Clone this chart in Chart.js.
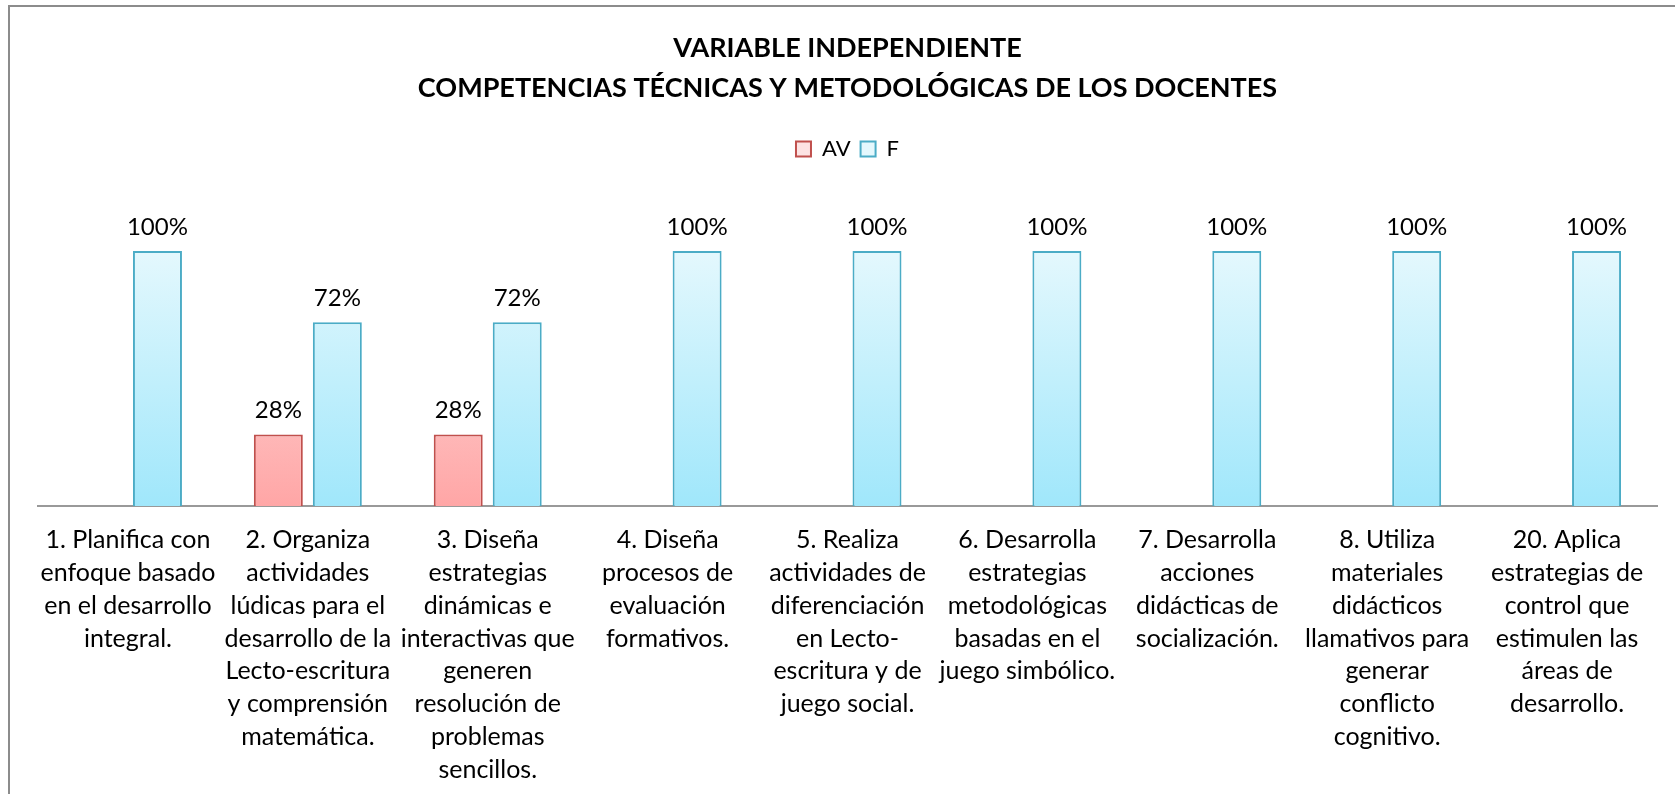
<!DOCTYPE html>
<html>
<head>
<meta charset="utf-8">
<script src="https://cdn.jsdelivr.net/npm/chart.js@4.4.1/dist/chart.umd.min.js"></script>
<style>
  html, body { margin: 0; padding: 0; background: #fff; overflow: hidden; }
  #frame {
    position: absolute; left: 8px; top: 5px; width: 1700px; height: 820px;
    border-left: 2px solid #8c8c8c; border-top: 2px solid #8c8c8c;
  }
  #wrap { position: absolute; left: 0; top: 0; width: 1675px; height: 794px; }
</style>
</head>
<body>
<div id="frame"></div>
<div id="wrap"><canvas id="chart"></canvas></div>
<script>
const categories = [
    ['1. Planifica con', 'enfoque basado', 'en el desarrollo', 'integral.'],
    ['2. Organiza', 'actividades', 'lúdicas para el', 'desarrollo de la', 'Lecto-escritura', 'y comprensión', 'matemática.'],
    ['3. Diseña', 'estrategias', 'dinámicas e', 'interactivas que', 'generen', 'resolución de', 'problemas', 'sencillos.'],
    ['4. Diseña', 'procesos de', 'evaluación', 'formativos.'],
    ['5. Realiza', 'actividades de', 'diferenciación', 'en Lecto-', 'escritura y de', 'juego social.'],
    ['6. Desarrolla', 'estrategias', 'metodológicas', 'basadas en el', 'juego simbólico.'],
    ['7. Desarrolla', 'acciones', 'didácticas de', 'socialización.'],
    ['8. Utiliza', 'materiales', 'didácticos', 'llamativos para', 'generar', 'conflicto', 'cognitivo.'],
    ['20. Aplica', 'estrategias de', 'control que', 'estimulen las', 'áreas de', 'desarrollo.'],
];
const avValues = [0, 28, 28, 0, 0, 0, 0, 0, 0];
const fValues = [100, 72, 72, 100, 100, 100, 100, 100, 100];
const titleLines = ['VARIABLE INDEPENDIENTE', 'COMPETENCIAS TÉCNICAS Y METODOLÓGICAS DE LOS DOCENTES'];

const FONT = 'Lato, "Open Sans", sans-serif';

function vGradient(top, bottom) {
    return (c) => {
        const area = c.chart.chartArea;
        if (!area) return bottom;
        const g = c.chart.ctx.createLinearGradient(0, area.top, 0, area.bottom);
        g.addColorStop(0, top);
        g.addColorStop(1, bottom);
        return g;
    };
}

// draws the percentage above each bar, skipping zeros
const valueLabels = {
    id: 'valueLabels',
    afterDatasetsDraw(chart) {
        const ctx = chart.ctx;
        ctx.save();
        ctx.font = '24px ' + FONT;
        ctx.fillStyle = '#000';
        ctx.textAlign = 'center';
        ctx.textBaseline = 'middle';
        chart.data.datasets.forEach((ds, i) => {
            chart.getDatasetMeta(i).data.forEach((bar, j) => {
                if (!ds.data[j]) return;
                ctx.fillText(ds.data[j] + '%', bar.x, bar.y - 24);
            });
        });
        ctx.restore();
    },
};

// extra room between legend and plot
const legendGap = {
    id: 'legendGap',
    beforeInit(chart) {
        const fit = chart.legend.fit;
        chart.legend.fit = function () {
            fit.call(this);
            this.height += 81;
        };
    },
};

new Chart(document.getElementById('chart'), {
    type: 'bar',
    data: {
        labels: categories,
        datasets: [{
            label: 'AV',
            data: avValues,
            backgroundColor: vGradient('#fde3e3', '#ffa6a6'),
            borderColor: '#c0504d',
            borderWidth: 2,
            borderSkipped: 'bottom',
            categoryPercentage: 0.656,
            barPercentage: 0.83,
        }, {
            label: 'F',
            data: fValues,
            backgroundColor: vGradient('#e4f8fd', '#a0e7fb'),
            borderColor: '#4bacc6',
            borderWidth: 2,
            borderSkipped: 'bottom',
            categoryPercentage: 0.656,
            barPercentage: 0.83,
        }],
    },
    plugins: [valueLabels, legendGap],
    options: {
        responsive: true,
        maintainAspectRatio: false,
        animation: false,
        layout: { padding: { left: 38, right: 18, top: 0, bottom: -10 } },
        scales: {
            x: {
                grid: { display: false, drawTicks: false },
                border: { display: true, color: '#999', width: 2 },
                ticks: {
                    color: '#000',
                    maxRotation: 0,
                    autoSkip: false,
                    padding: 18,
                    font: { family: FONT, size: 25, lineHeight: 1.31 },
                },
            },
            y: {
                display: false,
                min: 0,
                max: 100,
            },
        },
        plugins: {
            title: {
                display: true,
                text: titleLines,
                color: '#000',
                font: { family: FONT, size: 27, weight: 'bold', lineHeight: 1.48 },
                padding: { top: 28, bottom: 20 },
            },
            legend: {
                position: 'top',
                labels: {
                    color: '#000',
                    boxWidth: 15,
                    boxHeight: 15,
                    padding: 10,
                    font: { family: FONT, size: 22 },
                },
            },
            tooltip: { enabled: false },
        },
    },
});
</script>
</body>
</html>
